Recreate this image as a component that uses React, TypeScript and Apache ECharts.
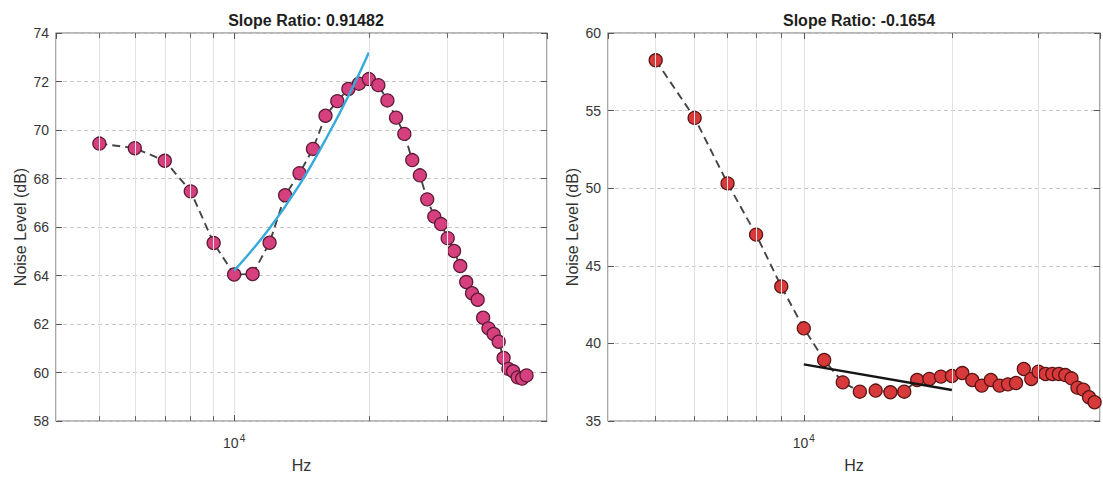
import React, { useEffect, useRef } from 'react';
import * as echarts from 'echarts';

// ---------------- data ----------------
const leftFreq = [
  5000, 6000, 7000, 8000, 9000, 10000, 11000, 12000, 13000, 14000, 15000,
  16000, 17000, 18000, 19000, 20000, 21000, 22000, 23000, 24000, 25000,
  26000, 27000, 28000, 29000, 30000, 31000, 32000, 33000, 34000, 35000,
  36000, 37000, 38000, 39000, 40000, 41000, 42000, 43000, 44000, 45000,
];
const leftNoise = [
  69.44, 69.25, 68.73, 67.47, 65.34, 64.04, 64.06, 65.35, 67.31, 68.22, 69.22,
  70.59, 71.19, 71.69, 71.91, 72.1, 71.85, 71.22, 70.51, 69.84, 68.76,
  68.13, 67.14, 66.43, 66.12, 65.54, 65.01, 64.39, 63.73, 63.27, 63.0,
  62.26, 61.82, 61.59, 61.27, 60.6, 60.15, 60.05, 59.8, 59.75, 59.88,
];
const leftFitFreq = [10000, 12000, 14000, 16000, 18000, 20000];
const leftFitNoise = [64.2, 65.95, 67.75, 69.6, 71.4, 73.2];

const rightFreq = [
  5000, 6000, 7000, 8000, 9000, 10000, 11000, 12000, 13000, 14000, 15000,
  16000, 17000, 18000, 19000, 20000, 21000, 22000, 23000, 24000, 25000,
  26000, 27000, 28000, 29000, 30000, 31000, 32000, 33000, 34000, 35000,
  36000, 37000, 38000, 39000,
];
const rightNoise = [
  58.24, 54.53, 50.31, 47.01, 43.67, 40.97, 38.93, 37.49, 36.89, 36.96, 36.85,
  36.89, 37.64, 37.71, 37.86, 37.9, 38.09, 37.64, 37.28, 37.64, 37.28,
  37.36, 37.45, 38.35, 37.71, 38.18, 38.03, 38.03, 38.03, 37.96, 37.75,
  37.15, 37.02, 36.53, 36.21,
];
const rightFitFreq = [10000, 20000];
const rightFitNoise = [38.65, 37.0];

const leftTitle = 'Slope Ratio: 0.91482';
const rightTitle = 'Slope Ratio: -0.1654';
const xName = 'Hz';
const yName = 'Noise Level (dB)';

const leftXRange = [4000, 50000];
const rightXRange = [4000, 40000];
const leftYRange = [58, 74];
const leftYStep = 2;
const rightYRange = [35, 60];
const rightYStep = 5;
const leftMinorTicks = [5000, 6000, 7000, 8000, 9000, 20000, 30000, 40000];
const rightMinorTicks = [5000, 6000, 7000, 8000, 9000, 20000, 30000];
const majorTick = 10000;

// ---------------- styling ----------------
const FONT = "'Liberation Sans', Arial, Helvetica, sans-serif";
const TICK_COLOR = '#353535';

function zip(xs: number[], ys: number[]) {
  return xs.map((x, i) => [x, ys[i]]);
}

function buildPanel(
  g: number,
  xr: number[],
  yr: number[],
  ystep: number,
  minor: number[],
  freq: number[],
  noise: number[],
  fitF: number[],
  fitN: number[],
  markerFill: string,
  markerBorder: string,
  fitColor: string,
  fitSmooth: boolean
) {
  const xAxes = [
    {
      type: 'log',
      logBase: 10,
      gridIndex: g,
      min: xr[0],
      max: xr[1],
      position: 'bottom',
      axisLine: { show: false },
      axisTick: { show: true, inside: true, length: 6, lineStyle: { color: '#555', width: 1 } },
      axisLabel: {
        show: true,
        margin: 12,
        showMinLabel: false,
        showMaxLabel: false,
        formatter: (v: number) => (Math.abs(v - majorTick) < 0.5 ? '{b|10}{s|4}' : ''),
        rich: {
          b: { fontSize: 14, color: TICK_COLOR, fontFamily: FONT, verticalAlign: 'bottom' },
          s: { fontSize: 10, color: TICK_COLOR, fontFamily: FONT, verticalAlign: 'bottom', padding: [0, 0, 7, 1] },
        },
      },
      splitLine: { show: true, lineStyle: { color: '#e2e2e2', width: 1 } },
      name: xName,
      nameLocation: 'middle',
      nameGap: 36,
      nameTextStyle: { fontSize: 16, color: '#333', fontFamily: FONT },
    },
    {
      type: 'log',
      logBase: 10,
      gridIndex: g,
      min: xr[0],
      max: xr[1],
      position: 'top',
      axisLine: { show: false },
      axisTick: { show: true, inside: true, length: 6, lineStyle: { color: '#555', width: 1 } },
      axisLabel: { show: false },
      splitLine: { show: false },
    },
  ];
  const yAxes = [
    {
      type: 'value',
      gridIndex: g,
      min: yr[0],
      max: yr[1],
      interval: ystep,
      position: 'left',
      axisLine: { show: false },
      axisTick: { show: true, inside: true, length: 6, lineStyle: { color: '#555', width: 1 } },
      axisLabel: { fontSize: 14, color: TICK_COLOR, fontFamily: FONT, margin: 7 },
      splitLine: { show: true, lineStyle: { color: '#c8c8c8', width: 1, type: [4, 3] } },
      name: yName,
      nameLocation: 'middle',
      nameGap: 28,
      nameTextStyle: { fontSize: 16, color: '#333', fontFamily: FONT },
    },
    {
      type: 'value',
      gridIndex: g,
      min: yr[0],
      max: yr[1],
      interval: ystep,
      position: 'right',
      axisLine: { show: false },
      axisTick: { show: true, inside: true, length: 6, lineStyle: { color: '#555', width: 1 } },
      axisLabel: { show: false },
      splitLine: { show: false },
    },
  ];
  const delta = (yr[1] - yr[0]) * 0.013;
  const markData: any[] = [];
  minor.forEach((v) => {
    markData.push({ xAxis: v, lineStyle: { color: '#e2e2e2', width: 1, type: 'solid' } });
  });
  minor.forEach((v) => {
    markData.push([
      { coord: [v, yr[0]], lineStyle: { color: '#666', width: 1, type: 'solid' } },
      { coord: [v, yr[0] + delta] },
    ]);
    markData.push([
      { coord: [v, yr[1]], lineStyle: { color: '#666', width: 1, type: 'solid' } },
      { coord: [v, yr[1] - delta] },
    ]);
  });
  const xi = g * 2;
  const yi = g * 2;
  const series = [
    {
      type: 'line',
      xAxisIndex: xi,
      yAxisIndex: yi,
      data: [],
      z: 1,
      silent: true,
      markLine: {
        silent: true,
        symbol: ['none', 'none'],
        label: { show: false },
        animation: false,
        data: markData,
      },
    },
    {
      type: 'line',
      xAxisIndex: xi,
      yAxisIndex: yi,
      data: zip(freq, noise),
      z: 3,
      symbol: 'circle',
      symbolSize: 13,
      itemStyle: { color: markerFill, borderColor: markerBorder, borderWidth: 1.3 },
      lineStyle: { color: '#444', width: 1.9, type: [8, 5] },
    },
    {
      type: 'line',
      xAxisIndex: xi,
      yAxisIndex: yi,
      data: zip(fitF, fitN),
      z: 4,
      smooth: fitSmooth,
      symbol: 'none',
      lineStyle: { color: fitColor, width: 2.4 },
    },
  ];
  return { xAxes, yAxes, series };
}

export default function App() {
  const ref = useRef<HTMLDivElement>(null);
  useEffect(() => {
    document.body.style.margin = '0';
    if (!ref.current) return;
    const chart = echarts.init(ref.current, undefined, { renderer: 'svg' });
    const L = buildPanel(0, leftXRange, leftYRange, leftYStep, leftMinorTicks, leftFreq, leftNoise,
      leftFitFreq, leftFitNoise, '#d6407e', '#5c1a36', '#35aadc', true);
    const R = buildPanel(1, rightXRange, rightYRange, rightYStep, rightMinorTicks, rightFreq, rightNoise,
      rightFitFreq, rightFitNoise, '#d83a3c', '#5a1414', '#151515', false);
    const gridStyle = { show: true, borderColor: '#6e6e6e', borderWidth: 1.2, backgroundColor: '#fff', containLabel: false };
    chart.setOption({
      animation: false,
      backgroundColor: '#fff',
      title: [
        {
          text: leftTitle,
          left: 301,
          top: 7,
          textAlign: 'center',
          textStyle: { fontSize: 16, fontWeight: 'bold', color: '#1e1e1e', fontFamily: FONT },
        },
        {
          text: rightTitle,
          left: 854,
          top: 7,
          textAlign: 'center',
          textStyle: { fontSize: 16, fontWeight: 'bold', color: '#1e1e1e', fontFamily: FONT },
        },
      ],
      grid: [
        { ...gridStyle, left: 56, right: 1103 - 547, top: 33, bottom: 478 - 423 },
        { ...gridStyle, left: 608, right: 3, top: 33, bottom: 478 - 423 },
      ],
      xAxis: [...L.xAxes, ...R.xAxes],
      yAxis: [...L.yAxes, ...R.yAxes],
      series: [...L.series, ...R.series],
    });
    return () => chart.dispose();
  }, []);
  return <div ref={ref} style={{ width: 1103, height: 478 }} />;
}
